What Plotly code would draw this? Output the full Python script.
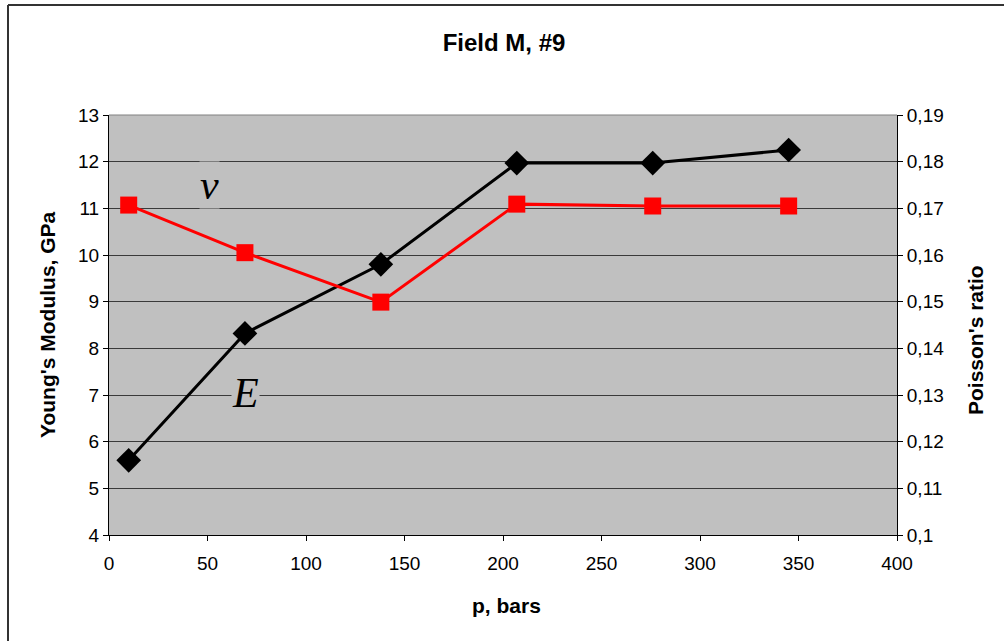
import plotly.graph_objects as go

# Pressure steps (bars)
pressure = [10, 69, 138, 207, 276, 345]
# Young's modulus E, GPa
youngs_modulus = [5.6, 8.32, 9.8, 11.97, 11.97, 12.25]
# Poisson's ratio
poisson_ratio = [0.1707, 0.1605, 0.1499, 0.1709, 0.1705, 0.1705]

x_ticks = [0, 50, 100, 150, 200, 250, 300, 350, 400]
left_ticks = [4, 5, 6, 7, 8, 9, 10, 11, 12, 13]
right_ticks = [0.10, 0.11, 0.12, 0.13, 0.14, 0.15, 0.16, 0.17, 0.18, 0.19]
right_tick_text = ["0,1", "0,11", "0,12", "0,13", "0,14", "0,15", "0,16", "0,17", "0,18", "0,19"]

tick_font = dict(family="Liberation Sans, Arial, sans-serif", size=19, color="black")

fig = go.Figure()

fig.add_trace(go.Scatter(
    x=pressure, y=youngs_modulus, mode="lines+markers", name="E",
    line=dict(color="black", width=3),
    marker=dict(symbol="diamond", size=19, color="black"),
    yaxis="y",
))
fig.add_trace(go.Scatter(
    x=pressure, y=poisson_ratio, mode="lines+markers", name="nu",
    line=dict(color="#FF0000", width=3),
    marker=dict(symbol="square", size=17, color="#FF0000"),
    yaxis="y2",
))

fig.update_layout(
    width=1004, height=641,
    margin=dict(l=109, r=107, t=115, b=106),
    paper_bgcolor="white",
    plot_bgcolor="#C0C0C0",
    showlegend=False,
    title=dict(
        text="<b>Field M, #9</b>",
        font=dict(family="Liberation Sans, Arial, sans-serif", size=24, color="black"),
        x=504 / 1004, xref="container", xanchor="center",
        y=1 - 43 / 641, yref="container", yanchor="middle",
    ),
    xaxis=dict(
        range=[0, 400], tickvals=x_ticks, ticks="outside", ticklen=5,
        tickcolor="black", showline=True, linecolor="black", linewidth=1,
        showgrid=False, zeroline=False, tickfont=tick_font,
        ticklabelstandoff=6,
    ),
    yaxis=dict(
        range=[4, 13], tickvals=left_ticks, ticks="outside", ticklen=5,
        tickcolor="black", showline=True, linecolor="black", linewidth=1,
        showgrid=True, gridcolor="#3a3a3a", gridwidth=1, zeroline=False,
        tickfont=tick_font,
    ),
    yaxis2=dict(
        range=[0.10, 0.19], tickvals=right_ticks, ticktext=right_tick_text,
        overlaying="y", side="right", ticks="outside", ticklen=5,
        tickcolor="black", showline=True, linecolor="black", linewidth=1,
        showgrid=False, zeroline=False, tickfont=tick_font,
    ),
)

# Top edge of the plot area and the outer chart frame
fig.add_shape(type="line", xref="paper", yref="paper", x0=0, x1=1, y0=1, y1=1,
              line=dict(color="#808080", width=1))
fig.add_shape(type="line", xref="paper", yref="paper",
              x0=(8 - 109) / 788, x1=(8 - 109) / 788, y0=-0.5, y1=1 + (115 - 5) / 420,
              line=dict(color="#333333", width=2))
fig.add_shape(type="line", xref="paper", yref="paper",
              x0=(8 - 109) / 788, x1=1.3, y0=1 + (115 - 5) / 420, y1=1 + (115 - 5) / 420,
              line=dict(color="#333333", width=2))

axis_title_font = dict(family="Liberation Sans, Arial, sans-serif", size=21, color="black")
fig.add_annotation(text="<b>p, bars</b>", xref="paper", yref="paper",
                   x=(506 - 109) / 788, y=-(605 - 535) / 420, showarrow=False,
                   font=axis_title_font, yanchor="middle")
fig.add_annotation(text="<b>Young's Modulus, GPa</b>", xref="paper", yref="paper",
                   x=(47 - 109) / 788, y=(535 - 325) / 420, textangle=-90,
                   showarrow=False, font=axis_title_font, xanchor="center")
fig.add_annotation(text="<b>Poisson's ratio</b>", xref="paper", yref="paper",
                   x=(975 - 109) / 788, y=(535 - 340) / 420, textangle=-90,
                   showarrow=False, font=axis_title_font, xanchor="center")

# Curve labels
label_font = dict(family="Liberation Serif, Times New Roman, serif", size=42, color="black")
fig.add_annotation(text="<i>ν</i>", x=51, y=11.5, xref="x", yref="y", showarrow=False,
                   font=label_font, bgcolor="#C0C0C0", borderpad=0)
fig.add_annotation(text="<i>E</i>", x=69.5, y=7.05, xref="x", yref="y", showarrow=False,
                   font=label_font, bgcolor="#C0C0C0", borderpad=0)

fig.write_html("out.html")
